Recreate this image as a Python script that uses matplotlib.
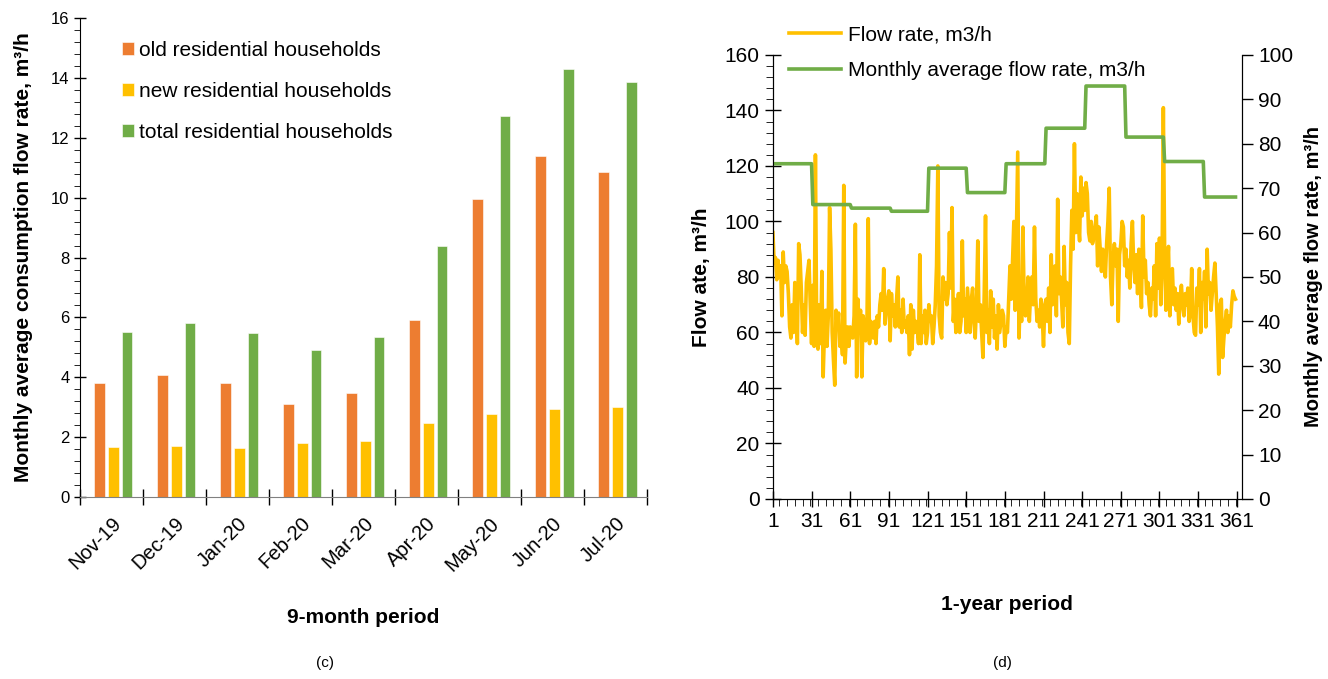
import numpy as np
import matplotlib
matplotlib.use('Agg')
import matplotlib.pyplot as plt
from matplotlib.ticker import MultipleLocator

plt.rcParams['font.family'] = ['Liberation Sans', 'DejaVu Sans']

# (c) monthly average consumption flow rate per household group
months = ['Nov-19', 'Dec-19', 'Jan-20', 'Feb-20', 'Mar-20', 'Apr-20', 'May-20', 'Jun-20', 'Jul-20']
old_res = [3.82, 4.08, 3.82, 3.10, 3.48, 5.93, 9.95, 11.38, 10.86]
new_res = [1.68, 1.72, 1.65, 1.82, 1.87, 2.48, 2.78, 2.93, 3.02]
total_res = [5.50, 5.80, 5.47, 4.92, 5.35, 8.40, 12.72, 14.30, 13.88]

# (d) daily flow rate over one year, m3/h (30 values per row)
flow = [
    96, 85, 87, 79, 86, 80, 84, 66, 89, 78, 84, 82, 74, 62, 58, 70, 60, 78, 72, 56, 92, 88, 76, 60, 70, 59, 78, 82, 86, 70,
    56, 77, 55, 124, 60, 54, 70, 56, 82, 44, 60, 68, 55, 66, 105, 90, 60, 50, 41, 68, 62, 67, 55, 60, 52, 113, 49, 58, 62, 55,
    62, 60, 58, 66, 99, 44, 72, 60, 68, 44, 66, 62, 57, 64, 101, 56, 64, 60, 58, 64, 56, 66, 62, 70, 74, 68, 83, 63, 68, 72,
    75, 57, 74, 66, 70, 62, 72, 80, 62, 68, 60, 72, 62, 64, 60, 66, 52, 70, 54, 68, 60, 64, 62, 56, 88, 56, 66, 60, 68, 56,
    60, 70, 64, 66, 56, 62, 70, 84, 120, 66, 60, 58, 80, 72, 78, 70, 74, 96, 76, 105, 64, 72, 60, 68, 74, 60, 64, 93, 66, 72,
    60, 76, 68, 60, 72, 76, 64, 58, 70, 93, 64, 70, 60, 51, 74, 102, 60, 68, 56, 75, 62, 72, 58, 66, 54, 70, 60, 64, 68, 66,
    55, 62, 60, 72, 84, 72, 86, 100, 68, 96, 125, 58, 74, 64, 98, 72, 66, 70, 80, 64, 74, 80, 70, 98, 72, 64, 68, 62, 72, 66,
    55, 70, 72, 64, 76, 60, 88, 70, 72, 84, 66, 108, 74, 80, 72, 62, 91, 70, 78, 60, 56, 84, 104, 90, 128, 96, 110, 100, 93, 116,
    102, 112, 104, 114, 110, 96, 93, 100, 92, 94, 98, 102, 84, 98, 90, 82, 90, 86, 80, 92, 100, 112, 80, 70, 86, 92, 84, 90, 64, 88,
    92, 100, 98, 84, 90, 80, 86, 76, 92, 100, 84, 78, 88, 74, 90, 82, 69, 102, 80, 86, 74, 78, 70, 66, 76, 72, 84, 66, 92, 76,
    94, 70, 84, 141, 90, 68, 82, 91, 66, 80, 83, 70, 76, 68, 74, 63, 72, 77, 70, 66, 74, 70, 76, 64, 68, 83, 66, 60, 59, 76,
    70, 83, 60, 78, 72, 82, 62, 90, 74, 78, 68, 74, 80, 85, 74, 62, 45, 70, 72, 51, 58, 64, 68, 60, 66, 62, 70, 75, 73, 72,
]
monthly_avg = [75.5, 66.3, 65.5, 64.8, 74.5, 69.0, 75.5, 83.5, 93.0, 81.5, 76.0, 68.0]
month_days = [31, 30, 31, 29, 30, 30, 31, 31, 31, 30, 31, 25]

c_old = '#ED7D31'
c_new = '#FFC000'
c_tot = '#70AD47'

fig = plt.figure(figsize=(13.28, 6.79), dpi=100)

#%% (c) bar chart
ax = fig.add_axes([0.0602, 0.268, 0.427, 0.7054])
x = np.arange(len(months)) + 0.53
w = 0.165
ax.bar(x - 0.221, old_res, w, color=c_old, edgecolor='white', linewidth=0.4, label='old residential households')
ax.bar(x, new_res, w, color=c_new, edgecolor='white', linewidth=0.4, label='new residential households')
ax.bar(x + 0.221, total_res, w, color=c_tot, edgecolor='white', linewidth=0.4, label='total residential households')
ax.set_xlim(0, len(months))
ax.set_ylim(0, 16)
ax.yaxis.set_major_locator(MultipleLocator(2))
ax.yaxis.set_minor_locator(MultipleLocator(0.4))
ax.set_xticks(np.arange(len(months) + 1))
ax.set_xticklabels([])
ax.set_xticks(np.arange(len(months)) + 0.5, minor=True)
ax.set_xticklabels(months, minor=True, rotation=45, ha='right', rotation_mode='anchor', fontsize=14.5)
ax.tick_params(axis='x', which='major', direction='inout', length=12, width=1)
ax.tick_params(axis='x', which='minor', length=0, pad=12)
ax.tick_params(axis='y', which='major', direction='inout', length=8, width=1, labelsize=12)
ax.tick_params(axis='y', which='minor', direction='out', length=4)
for s in ['top', 'right']:
    ax.spines[s].set_visible(False)
ax.spines['bottom'].set_color('#808080')
ax.set_ylabel('Monthly average consumption flow rate, m³/h', fontsize=15, fontweight='bold', labelpad=13)
ax.set_xlabel('9-month period', fontsize=15, fontweight='bold', labelpad=24)
ax.legend(loc='upper left', bbox_to_anchor=(0.0919, 0.940), bbox_transform=fig.transFigure, frameon=False,
          fontsize=15, handlelength=0.55, handleheight=0.55, handletextpad=0.27, labelspacing=1.06,
          borderpad=0, borderaxespad=0)
fig.text(0.245, 0.017, '(c)', ha='center', fontsize=11)

#%% (d) line chart with twin axis
axr = fig.add_axes([0.582, 0.2651, 0.3532, 0.654])
days = np.arange(1, len(flow) + 1)
l1, = axr.plot(days, flow, color=c_new, linewidth=2.6, label='Flow rate, m3/h')
axr.set_xlim(1, 365)
axr.set_ylim(0, 160)
axr.yaxis.set_major_locator(MultipleLocator(20))
axr.yaxis.set_minor_locator(MultipleLocator(4))
axr.set_xticks(np.arange(1, 362, 30))
axr.xaxis.set_minor_locator(MultipleLocator(6))
axr.tick_params(axis='both', which='major', direction='inout', length=12, width=1, labelsize=15)
axr.tick_params(axis='both', which='minor', direction='out', length=5)
axr.spines['top'].set_visible(False)
axr.set_ylabel('Flow ate, m³/h', fontsize=15, fontweight='bold', labelpad=10)
axr.set_xlabel('1-year period', fontsize=15, fontweight='bold', labelpad=46)

ax2 = axr.twinx()
avg_daily = np.repeat(monthly_avg, month_days)
l2, = ax2.plot(days, avg_daily, color=c_tot, linewidth=2.6, label='Monthly average flow rate, m3/h')
ax2.set_ylim(0, 100)
ax2.yaxis.set_major_locator(MultipleLocator(10))
ax2.tick_params(axis='y', direction='out', length=8, width=1, labelsize=15)
ax2.spines['top'].set_visible(False)
ax2.set_ylabel('Monthly average flow rate, m³/h', fontsize=14.5, fontweight='bold', labelpad=8)

fig.legend(handles=[l1, l2], loc='upper left', bbox_to_anchor=(0.594, 0.963), frameon=False,
           fontsize=15, handlelength=2.5, handletextpad=0.35, labelspacing=0.82,
           borderpad=0, borderaxespad=0)
fig.text(0.755, 0.017, '(d)', ha='center', fontsize=11)

fig.savefig('out.png', dpi=100)
